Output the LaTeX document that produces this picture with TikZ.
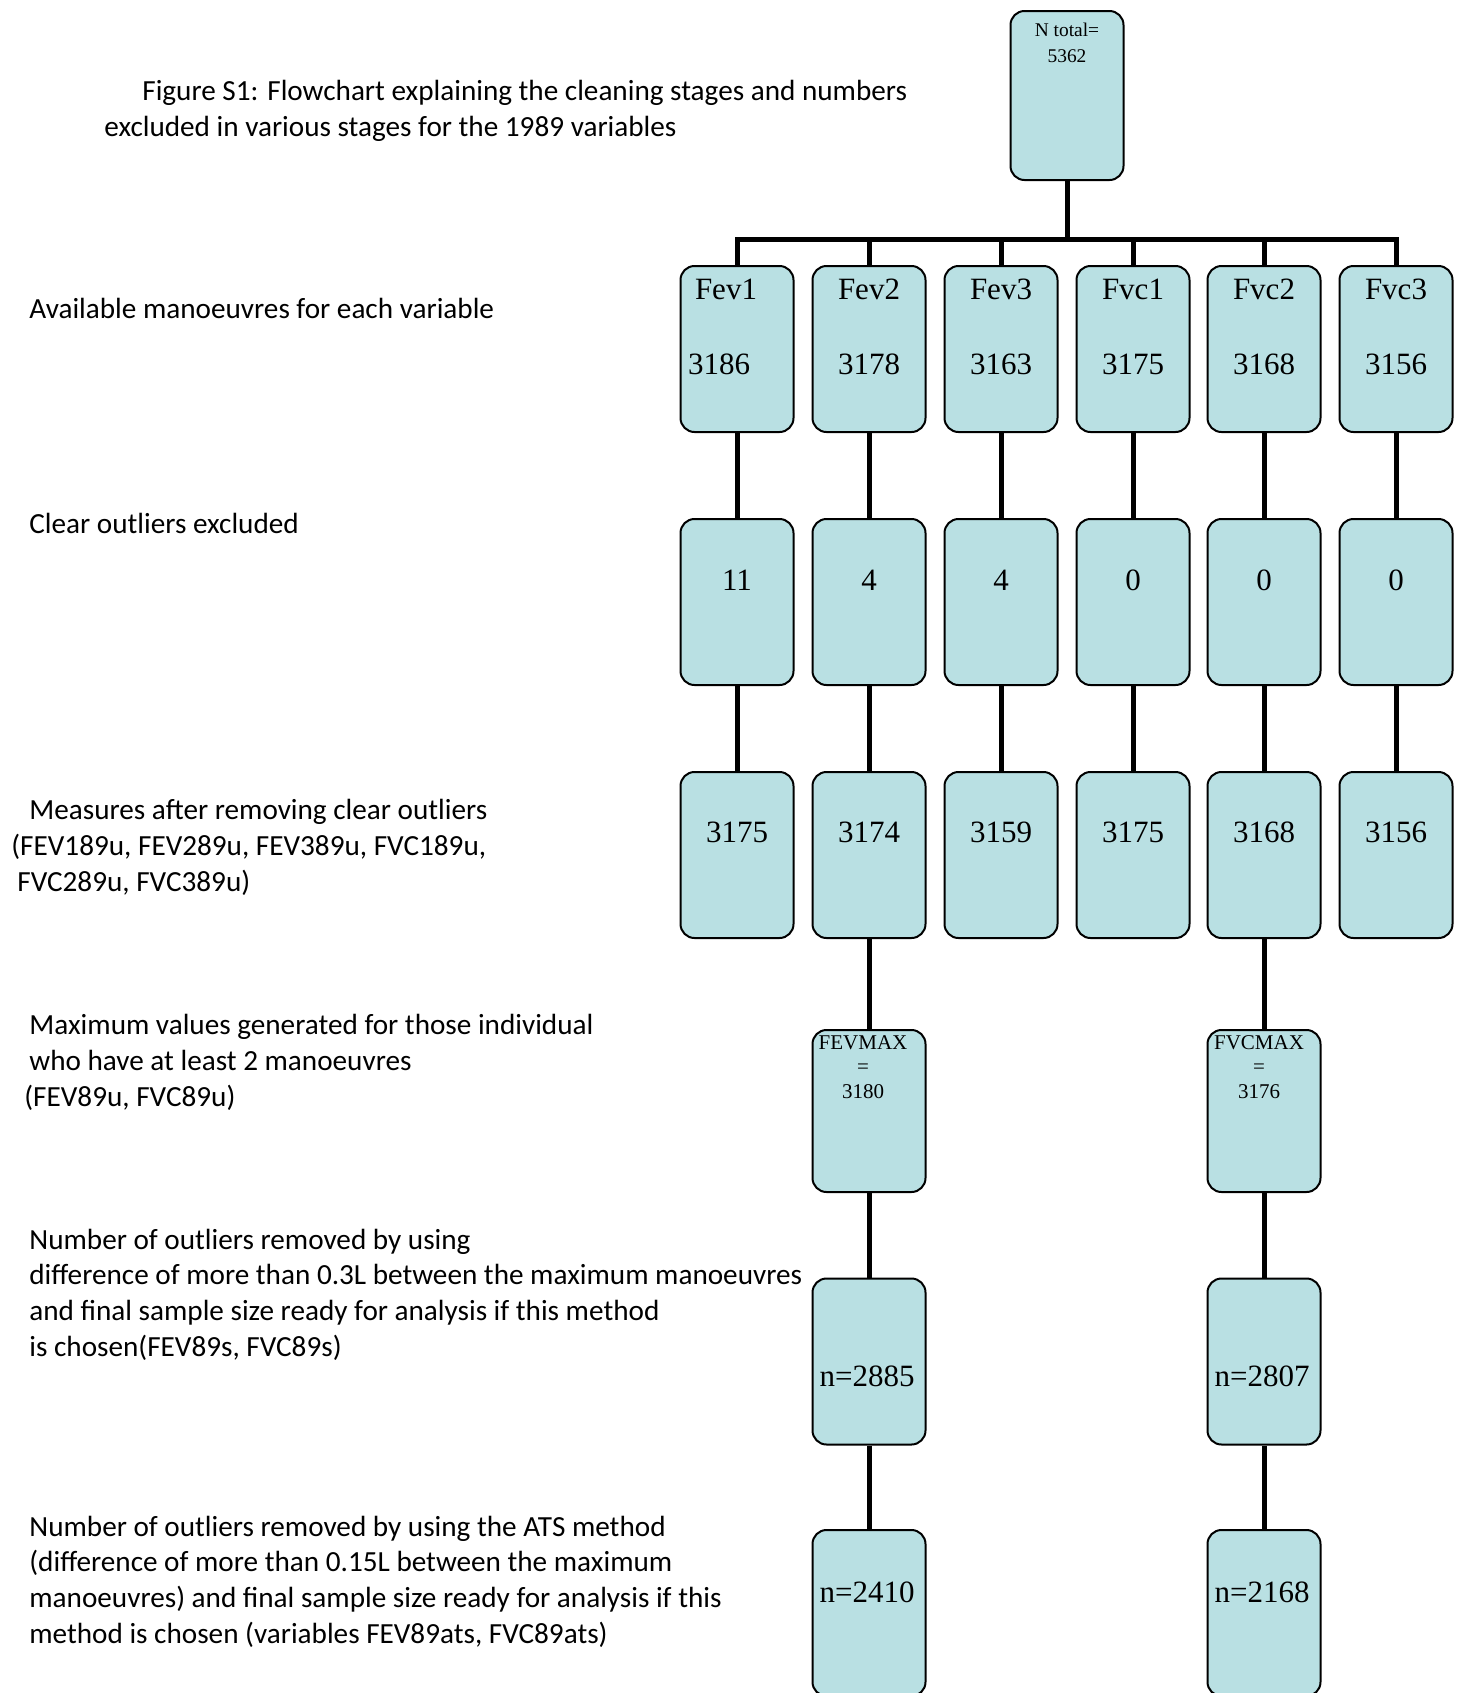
\documentclass[tikz,border=0pt]{standalone}
\usepackage{fontspec}
\setmainfont{Liberation Serif}
\newfontfamily\notefont{Carlito}
\usepackage{tikz}
\usetikzlibrary{positioning}
\definecolor{boxfill}{HTML}{B9E0E3}
\tikzset{
  box/.style={draw=black, fill=boxfill, rounded corners=7pt, line width=1pt, minimum width=56.5pt, minimum height=83pt, inner sep=0pt},
  link/.style={draw=black, line width=2.5pt},
  big/.style={font=\fontsize{15.5}{18}\selectfont, inner sep=0pt},
  small/.style={font=\fontsize{10.5}{12.25}\selectfont, inner sep=0pt, align=center},
  tiny/.style={font=\fontsize{9.7}{13}\selectfont, inner sep=0pt, align=center},
  note/.style={font=\notefont\fontsize{14.6}{17.8}\selectfont, inner sep=0pt, align=left, anchor=base west},
}
\begin{document}
\begin{tikzpicture}[x=0.5pt, y=-0.5pt]
\useasboundingbox (0,0) rectangle (1462,1693);
\node[box, minimum height=84.5pt] (top) at (1067,95.5) {};
\node[tiny] (toptxt) at (1067,43) {N total=\\5362};
\coordinate (bus) at (1067,239);
\draw[link] (top) -- (bus);
\foreach \n/\x/\hx/\nx/\lab/\a/\b/\c in {fev1/737/-11/-18/Fev1/3186/11/3175, fev2/869/0/0/Fev2/3178/4/3174, fev3/1001/0/0/Fev3/3163/4/3159, fvc1/1133/0/0/Fvc1/3175/0/3175, fvc2/1264/0/0/Fvc2/3168/0/3168, fvc3/1396/0/0/Fvc3/3156/0/3156}{
  \node[box] (\n a) at (\x,349) {};
  \node[box] (\n b) at (\x,602) {};
  \node[box] (\n c) at (\x,855) {};
  \node[big] (\n h) at (\x+\hx,289) {\lab};
  \node[big] (\n n) at (\x+\nx,364) {\a};
  \node[big] (\n o) at (\x,580) {\b};
  \node[big] (\n m) at (\x,832) {\c};
  \draw[link] (\n a.north |- bus) -- (\n a);
  \draw[link] (\n a) -- (\n b);
  \draw[link] (\n b) -- (\n c);
}
\draw[link, line cap=rect] (fev1a.north |- bus) -- (fvc3a.north |- bus);
% maximum values and final samples
\node[box, minimum height=81pt] (fevmax) at (869,1111) {};
\node[small] (fevmaxt) at (863,1067) {FEVMAX\\=\\3180};
\node[box] (fevs) at (869,1361.5) {};
\node[big] (fevst) at (867,1376) {n=2885};
\node[box] (fevats) at (869,1613) {};
\node[big] (fevatst) at (867,1592) {n=2410};
\node[box, minimum height=81pt] (fvcmax) at (1264,1111) {};
\node[small] (fvcmaxt) at (1259,1067) {FVCMAX\\=\\3176};
\node[box] (fvcs) at (1264,1361.5) {};
\node[big] (fvcst) at (1262,1376) {n=2807};
\node[box] (fvcats) at (1264,1613) {};
\node[big] (fvcatst) at (1262,1592) {n=2168};
\draw[link] (fev2c) -- (fevmax) -- (fevs) -- (fevats);
\draw[link] (fvc2c) -- (fvcmax) -- (fvcs) -- (fvcats);
% stage notes (placed at the baseline of their last line)
\node[note] (title) at (104,136) {\hspace*{19pt}Figure S1: Flowchart explaining the cleaning stages and numbers\\excluded in various stages for the 1989 variables};
\node[note] (avail) at (29,318) {Available manoeuvres for each variable};
\node[note] (clear) at (29,533) {Clear outliers excluded};
\node[note] (meas) at (11,891) {\hspace*{9pt}Measures after removing clear outliers\\(FEV189u, FEV289u, FEV389u, FVC189u,\\\hspace*{3pt}FVC289u, FVC389u)};
\node[note] (maxv) at (24,1106) {\hspace*{2.5pt}Maximum values generated for those individual\\\hspace*{2.5pt}who have at least 2 manoeuvres\\(FEV89u, FVC89u)};
\node[note] (diff) at (29,1356) {Number of outliers removed by using\\difference of more than 0.3L between the maximum manoeuvres\\and final sample size ready for analysis if this method\\is chosen(FEV89s, FVC89s)};
\node[note] (ats) at (29,1643) {Number of outliers removed by using the ATS method\\(difference of more than 0.15L between the maximum\\manoeuvres) and final sample size ready for analysis if this\\method is chosen (variables FEV89ats, FVC89ats)};
\end{tikzpicture}
\end{document}
